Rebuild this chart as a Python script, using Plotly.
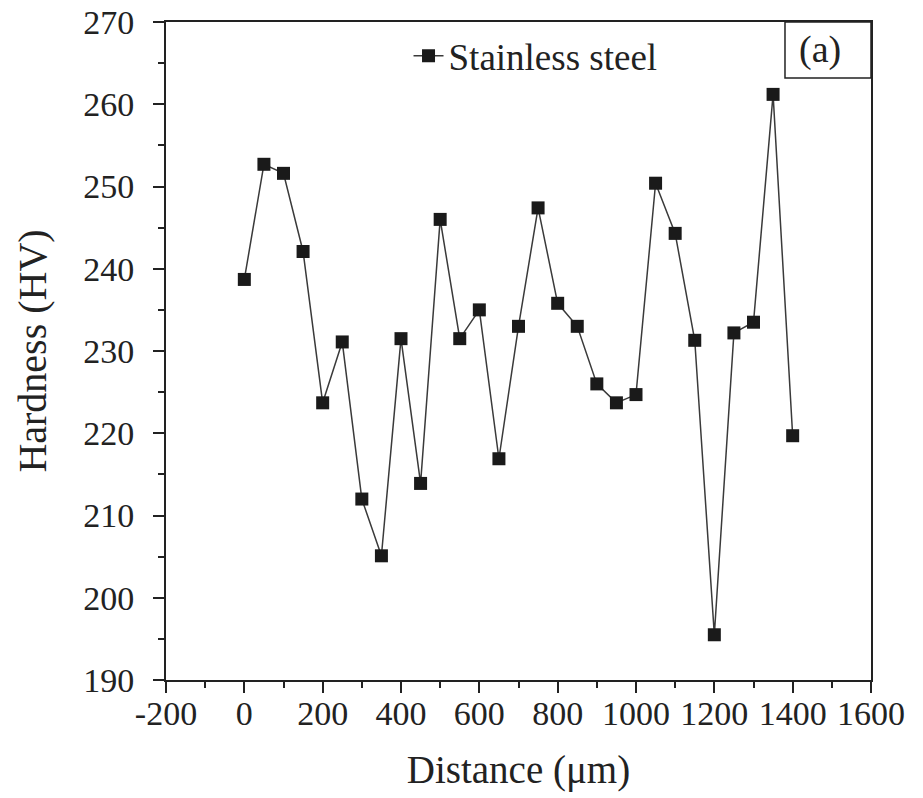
import plotly.graph_objects as go

# Microhardness profile across the stainless steel sample
distance_um = [0, 50, 100, 150, 200, 250, 300, 350, 400, 450, 500, 550, 600, 650,
               700, 750, 800, 850, 900, 950, 1000, 1050, 1100, 1150, 1200, 1250,
               1300, 1350, 1400]
hardness_hv = [238.7, 252.7, 251.6, 242.1, 223.7, 231.1, 212.0, 205.1, 231.5, 213.9,
               246.0, 231.5, 235.0, 216.9, 233.0, 247.4, 235.8, 233.0, 226.0, 223.7,
               224.7, 250.4, 244.3, 231.3, 195.5, 232.2, 233.5, 261.2, 219.7]

x_tick_vals = [-200, 0, 200, 400, 600, 800, 1000, 1200, 1400, 1600]
x_tick_text = ["-200", "0", "200", "400", "600", "800", "1000", "1200", "1400", "1600"]
y_tick_vals = [190, 200, 210, 220, 230, 240, 250, 260, 270]
y_tick_text = ["190", "200", "210", "220", "230", "240", "250", "260", "270"]

FONT = "Liberation Serif, Times New Roman, Times, serif"
INK = "#222222"
TICK_SIZE = 34
TITLE_SIZE = 39

fig = go.Figure()
fig.add_trace(go.Scatter(
    x=distance_um, y=hardness_hv, mode="lines+markers", name="Stainless steel",
    line=dict(color="#3a3a3a", width=1.5),
    marker=dict(symbol="square", size=13, color="#1a1a1a"),
))

axis_common = dict(
    showline=True, linecolor=INK, linewidth=2, mirror=True,
    ticks="outside", ticklen=11, tickwidth=1.5, tickcolor=INK,
    showgrid=False, zeroline=False, automargin=False,
    tickfont=dict(family=FONT, size=TICK_SIZE, color=INK),
)

fig.update_layout(
    width=923, height=798,
    margin=dict(l=166, r=52, t=22, b=118),
    paper_bgcolor="white", plot_bgcolor="white",
    font=dict(family=FONT, color=INK),
    showlegend=True,
    legend=dict(x=0.344, y=0.948, xanchor="left", yanchor="middle",
                bgcolor="rgba(0,0,0,0)", font=dict(family=FONT, size=37, color=INK)),
    xaxis=dict(
        **axis_common, range=[-200, 1600],
        tickmode="array", tickvals=x_tick_vals, ticktext=x_tick_text,
        ticklabelstandoff=-9,
        minor=dict(dtick=100, tick0=-200, ticks="outside", ticklen=6, tickwidth=1.5, tickcolor=INK),
        title=dict(text="Distance (\u03bcm)", font=dict(family=FONT, size=TITLE_SIZE, color=INK), standoff=25),
    ),
    yaxis=dict(
        **axis_common, range=[190, 270],
        tickmode="array", tickvals=y_tick_vals, ticktext=y_tick_text,
        ticklabelstandoff=12,
        minor=dict(dtick=5, tick0=190, ticks="outside", ticklen=6, tickwidth=1.5, tickcolor=INK),
        title=dict(text="Hardness (HV)", font=dict(family=FONT, size=40, color=INK), standoff=24),
    ),
)

# Panel label "(a)" in a framed box at the top-right corner
fig.add_shape(type="rect", xref="paper", yref="paper", x0=0.878, x1=1.0, y0=0.915, y1=1.0,
              line=dict(color=INK, width=1.5), fillcolor="white")
fig.add_annotation(xref="paper", yref="paper", x=0.928, y=0.958, text="(a)", showarrow=False,
                   font=dict(family=FONT, size=38, color=INK), xanchor="center", yanchor="middle")

fig.write_html("out.html")
